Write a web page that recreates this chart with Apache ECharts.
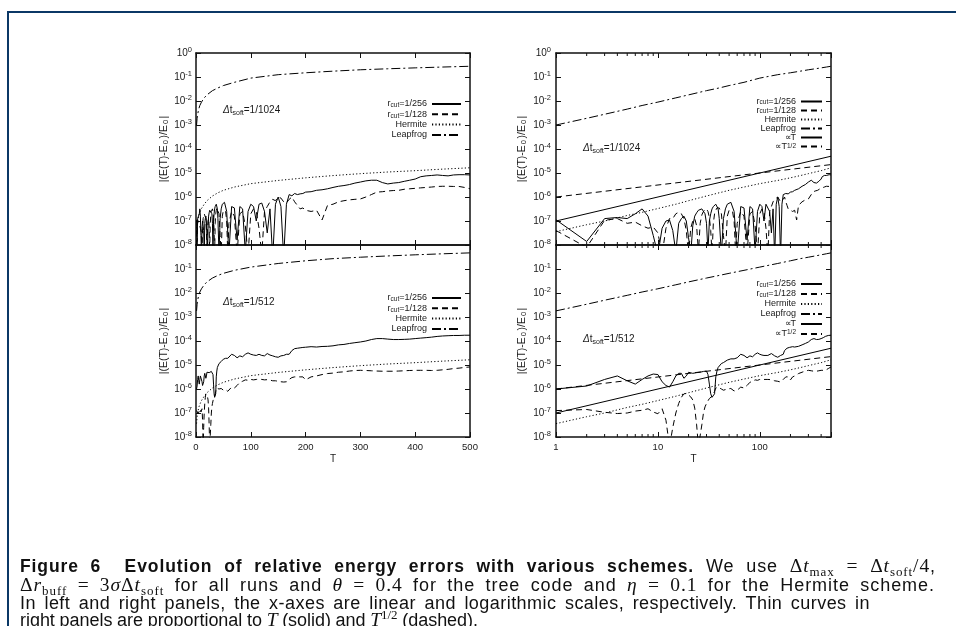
<!DOCTYPE html>
<html><head><meta charset="utf-8">
<script src="https://cdn.jsdelivr.net/npm/echarts@6/dist/echarts.min.js"></script>
<style>
html,body{margin:0;padding:0;background:#fff;}
#wrap{position:relative;width:956px;height:626px;overflow:hidden;}
#c{position:absolute;left:0;top:0;width:956px;height:626px;}
.cap{position:absolute;left:20px;white-space:nowrap;font-family:'Liberation Sans',Arial,sans-serif;font-size:18px;line-height:20px;color:#111;}
.cap b{font-weight:bold;font-size:17.5px;}
.cap i{font-family:'Liberation Serif','DejaVu Serif',serif;font-size:19.5px;font-style:italic;}
.cap .mr{font-family:'Liberation Serif','DejaVu Serif',serif;font-size:19.5px;}
.cap sub,.cap sup{font-family:'Liberation Serif','DejaVu Serif',serif;font-size:13px;line-height:0;position:relative;vertical-align:baseline;}
.cap sub{top:4px;}
.cap sup{top:-7px;}
</style>
</head><body><div id="wrap"><div id="c"></div>
<div class="cap" data-right="930" style="top:556px"><b>Figure 6&nbsp; Evolution of relative energy errors with various schemes.</b> We use <span class="mr">&Delta;</span><i>t</i><sub>max</sub> <span class="mr">= &Delta;</span><i>t</i><sub>soft</sub><span class="mr">/4</span>,</div>
<div class="cap" data-right="935" style="top:575px"><span class="mr">&Delta;</span><i>r</i><sub>buff</sub> <span class="mr">= 3</span><i>&sigma;</i><span class="mr">&Delta;</span><i>t</i><sub>soft</sub> for all runs and <i>&theta;</i> <span class="mr">= 0.4</span> for the tree code and <i>&eta;</i> <span class="mr">= 0.1</span> for the Hermite scheme.</div>
<div class="cap" data-right="870" style="top:593px">In left and right panels, the x-axes are linear and logarithmic scales, respectively. Thin curves in</div>
<div class="cap" data-right="478" style="top:610px">right panels are proportional to <i>T</i> (solid) and <i>T</i><sup>1/2</sup> (dashed).</div>
</div>
<script>
// ---------------- data ----------------
const tNoisy = [1,2,3,4,5,6,7,8,9,10,11,12,13,14,15,16,17,18,19,20,21,22,23,24,25,26,27,28,29,30,31,32,33,34,35,36,37,38,39,40,
  42,44,46,48,50,52,54,56,58,60,
  65,70,75,80,85,90,95,100,105,110,115,120,125,130,135,140,145,150,155,160,165,170,175,180,185,190,195,200,
  210,220,230,240,250,260,270,280,290,300,310,320,330,340,350,360,370,380,390,400,410,420,430,440,450,460,470,480,490,500];

// dt_soft = 1/1024, r_cut = 1/256 (solid)
const r256_1024 = [1.12e-7,1.4e-8,1.26e-7,1.4e-7,1.26e-7,2e-7,3.2e-7,1.6e-7,2.5e-8,4e-9,5e-8,1e-7,1.1e-7,4e-8,5e-9,8e-8,1.26e-7,1.6e-7,1e-7,2e-8,4e-9,6.3e-8,1.6e-7,2.2e-7,2.8e-7,3.2e-7,3.2e-7,2.8e-7,2e-7,8e-8,5e-9,1e-7,2e-7,3.2e-7,4e-7,4.5e-7,5e-7,4.5e-7,3.2e-7,1.26e-7,
  4e-9,1.26e-7,3.2e-7,5e-7,5.6e-7,6e-7,5e-7,2.5e-7,3.2e-8,4e-9,
  4e-7,3.5e-7,1.6e-8,4e-7,3.2e-7,5e-9,2.5e-7,5e-7,4e-7,1e-7,5e-7,5.6e-7,2.5e-7,3.2e-8,3.2e-7,3e-9,5e-7,1e-6,4e-7,3e-9,5e-7,1.26e-6,1.12e-6,1.4e-6,1.26e-6,1.35e-6,1.4e-6,1.6e-6,
  1.66e-6,1.9e-6,2e-6,2.2e-6,2.5e-6,2.8e-6,3e-6,3.3e-6,3.8e-6,4.2e-6,4.7e-6,5e-6,5e-6,4e-6,3.5e-6,3.8e-6,4e-6,4.5e-6,5e-6,5.6e-6,7e-6,7.6e-6,7.9e-6,8.3e-6,7.9e-6,7.6e-6,8.3e-6,8.5e-6,8.5e-6,8.3e-6];
// dt_soft = 1/1024, r_cut = 1/128 (dashed)
const r128_1024 = [4e-8,8e-9,1.07e-7,1.26e-7,8e-8,9e-8,6.3e-8,5e-8,5.6e-8,3.2e-8,4e-9,5e-8,1.26e-7,1.26e-7,2e-7,2.3e-7,2e-7,1.26e-7,4e-8,4e-9,5e-8,1e-7,1.26e-7,6.3e-8,5e-9,8e-8,1.8e-7,2.5e-7,2.8e-7,3.2e-7,2.5e-7,1.4e-7,4e-8,4e-9,8e-8,2e-7,2.8e-7,3.5e-7,3.8e-7,3.5e-7,
  2e-7,2.5e-8,4e-9,1.6e-7,2.8e-7,3.2e-7,2.5e-7,1e-7,4e-9,8e-8,
  2.5e-7,1.6e-7,4e-9,2e-7,2.5e-7,6.3e-8,4e-9,2e-7,3.2e-7,2.5e-7,5e-8,4e-9,2.5e-7,4e-7,6.3e-7,8e-7,7e-7,1e-6,9e-7,6.3e-7,5.6e-7,8e-7,1e-6,6.3e-7,4.5e-7,3.2e-7,3.5e-7,2.8e-7,
  2.5e-7,2.8e-7,1.1e-7,4.5e-7,5e-7,6.3e-7,7e-7,7.6e-7,8e-7,8.3e-7,1e-6,1.26e-6,1.6e-6,1.66e-6,1.78e-6,1.86e-6,1.9e-6,2.1e-6,2.2e-6,2.3e-6,2.4e-6,2.5e-6,2.6e-6,2.75e-6,2.8e-6,2.8e-6,2.75e-6,2.75e-6,2.5e-6,2.2e-6];
// dt_soft = 1/512, r_cut = 1/256 (solid)
const r256_512 = [1e-6,1.33e-6,2.5e-6,3.5e-6,2.2e-6,1.6e-6,2.5e-6,3.5e-6,4.2e-6,4e-6,2e-6,1.4e-6,1.2e-6,2e-6,3.5e-6,4.5e-6,4.5e-6,2.8e-6,3.5e-6,5e-6,4.7e-6,4.5e-6,4.4e-6,4.8e-6,5e-6,5e-6,5.2e-6,5.4e-6,5.5e-6,5.6e-6,4e-6,1.6e-6,6.3e-7,4.5e-7,4e-7,6.3e-7,3.2e-6,5.6e-6,7.9e-6,8.9e-6,
  1.15e-5,1.26e-5,1.4e-5,1.6e-5,1.75e-5,1.8e-5,1.9e-5,1.8e-5,1.9e-5,2e-5,
  2.8e-5,2.5e-5,2e-5,2.4e-5,2.2e-5,2.8e-5,3.2e-5,2.8e-5,2.6e-5,2.5e-5,2.8e-5,2.5e-5,2.4e-5,3e-5,2.6e-5,2.4e-5,2.2e-5,2.1e-5,2.4e-5,2.5e-5,2.8e-5,2.8e-5,4e-5,4.8e-5,5e-5,5.2e-5,5.4e-5,5.5e-5,
  5.8e-5,5.6e-5,5.9e-5,6e-5,6.3e-5,6.9e-5,7.2e-5,7.9e-5,8.5e-5,9.1e-5,1e-4,1.15e-4,1.26e-4,1.26e-4,1.2e-4,1.15e-4,1.15e-4,1.17e-4,1.2e-4,1.26e-4,1.32e-4,1.38e-4,1.45e-4,1.55e-4,1.62e-4,1.66e-4,1.7e-4,1.7e-4,1.74e-4,1.74e-4];
// dt_soft = 1/512, r_cut = 1/128 (dashed)
const r128_512 = [1.26e-7,1.4e-7,1.07e-7,9.5e-8,1e-7,1.2e-7,1.3e-7,1.5e-7,1.1e-7,9.3e-8,1.5e-7,5e-8,4e-9,2.5e-8,1e-7,2.5e-7,4.5e-7,6.3e-7,6.5e-7,5.6e-7,4.7e-7,3.5e-7,1.6e-7,3.2e-8,4e-9,4e-9,3.2e-8,1e-7,1.8e-7,2.5e-7,3.2e-7,4e-7,4.7e-7,5e-7,5e-7,8e-7,1.1e-6,1.2e-6,1.2e-6,1.1e-6,
  1e-6,8.9e-7,1.05e-6,1e-6,8.9e-7,1.05e-6,9.5e-7,8.3e-7,8e-7,8.9e-7,
  1.2e-6,1.1e-6,1.4e-6,1.9e-6,2.1e-6,2.4e-6,2.3e-6,2.5e-6,2.4e-6,2.5e-6,2.6e-6,2.5e-6,2.4e-6,2.45e-6,2.35e-6,2.2e-6,2.2e-6,2.1e-6,2e-6,1.95e-6,2e-6,2.5e-6,3e-6,3.2e-6,3.2e-6,3.2e-6,3.2e-6,2.4e-6,
  3.2e-6,3.5e-6,4e-6,4.4e-6,4.6e-6,5e-6,5.2e-6,5.6e-6,5.9e-6,6e-6,5.9e-6,5.75e-6,5.6e-6,5.5e-6,5.5e-6,5.5e-6,5.6e-6,5.75e-6,5.9e-6,6e-6,6e-6,6e-6,5.9e-6,6e-6,6.3e-6,6.6e-6,7.1e-6,7.4e-6,7.9e-6,8.3e-6];

const tSmooth = [1,2,3,5,7,10,15,20,30,40,50,70,100,150,200,250,300,350,400,450,500];
const hermite = [3.6e-8,7e-8,1e-7,1.7e-7,2.3e-7,3.3e-7,5e-7,7e-7,1.1e-6,1.5e-6,1.9e-6,2.6e-6,3.6e-6,4.9e-6,6.3e-6,7.8e-6,9.4e-6,1.1e-5,1.25e-5,1.45e-5,1.65e-5];
const leap_1024 = [1e-3,1.9e-3,2.8e-3,4.6e-3,6.5e-3,9e-3,1.35e-2,1.8e-2,2.7e-2,3.5e-2,4.4e-2,6e-2,9e-2,0.125,0.15,0.175,0.2,0.22,0.24,0.26,0.28];
const leap_512 = [1.8e-3,3.4e-3,5e-3,8e-3,1.1e-2,1.5e-2,2.2e-2,2.9e-2,4.2e-2,5.4e-2,6.6e-2,8.8e-2,0.12,0.17,0.22,0.27,0.31,0.35,0.39,0.43,0.47];

const tRef = [1, 500];
const propT = [1e-7, 5e-5];
const propSqrtT = [1e-6, 2.24e-5];

const xLinTicks = [0,100,200,300,400,500];
const xLogTicks = [1,10,100];
const xLogMinor = [2,3,4,5,6,7,8,9,20,30,40,50,60,70,80,90,200,300,400];
const panelLabels = ['1/1024','1/512','1/1024','1/512'];

// ---------------- styling ----------------
const FONT = "'Liberation Sans', Arial, Helvetica, sans-serif";
const INK = '#1a1a1a';
const dash = {r256:'solid', r128:[6,4], herm:[1.2,2.2], leap:[9,3,2,3], propT:'solid', propS:[6,4]};
const legendText = {
  r256:'{a|r}{s|cut}{a|=1/256}', r128:'{a|r}{s|cut}{a|=1/128}', herm:'{a|Hermite}', leap:'{a|Leapfrog}',
  propT:'{a|\u221DT}', propS:'{a|\u221DT}{p|1/2}'
};
function smallRich(lh) {
  return {
    a:{fontFamily:FONT,fontSize:9,lineHeight:lh,color:INK},
    s:{fontFamily:FONT,fontSize:6.5,lineHeight:6,color:INK,verticalAlign:'bottom'},
    p:{fontFamily:FONT,fontSize:6.5,lineHeight:6,color:INK,verticalAlign:'top'}
  };
}
const grids = [
  {left:196, top:53, width:274, height:192},
  {left:196, top:245, width:274, height:192},
  {left:556, top:53, width:275, height:192},
  {left:556, top:245, width:275, height:192}
];
const axisLine = {show:true, onZero:false, lineStyle:{color:'#111', width:1.5}};
const axisTick = {show:true, inside:true, length:5, lineStyle:{color:'#111', width:1}};
const tickRich = {
  b:{fontFamily:FONT,fontSize:10,lineHeight:15,color:INK},
  e:{fontFamily:FONT,fontSize:7.5,lineHeight:7,color:INK,verticalAlign:'top'}
};

const xAxis = [], yAxis = [];
grids.forEach((g, gi) => {
  const isLog = gi >= 2, bottomRow = gi % 2 === 1;
  const base = {gridIndex:gi, type:isLog?'log':'value', min:isLog?1:0, max:500, splitLine:{show:false},
    axisLine, axisTick};
  if (isLog) { base.logBase = 10; base.splitNumber = 3; } else { base.interval = 100; }
  xAxis.push(Object.assign({}, base, {position:'bottom',
    axisLabel:{show:bottomRow, margin:5, fontFamily:FONT, fontSize:9.5, color:INK,
      formatter: v => { if (isLog) { return xLogTicks.indexOf(Math.round(v)) >= 0 ? String(Math.round(v)) : ''; } return xLinTicks.indexOf(v) >= 0 ? String(v) : ''; }},
    name: bottomRow ? 'T' : '', nameLocation:'middle', nameGap:17,
    nameTextStyle:{fontFamily:FONT, fontSize:10, color:INK}}));
  xAxis.push(Object.assign({}, base, {position:'top', axisLabel:{show:false}}));
  const ybase = {gridIndex:gi, type:'log', logBase:10, min:1e-8, max:1, splitNumber:8, splitLine:{show:false}, axisLine, axisTick};
  yAxis.push(Object.assign({}, ybase, {position:'left',
    axisLabel:{margin:isLog?5:4, rich:tickRich,
      formatter: v => { const n = Math.round(Math.log10(v)); if (bottomRow && n === 0) return ''; return '{b|10}{e|' + n + '}'; }},
    name:'|(E(T)-E{s|0})/E{s|0}|', nameLocation:'middle', nameRotate:90, nameGap:isLog?28:25,
    nameTextStyle:{fontFamily:FONT, fontSize:10.5, lineHeight:12, color:INK,
      rich:{s:{fontFamily:FONT,fontSize:7.5,lineHeight:7,color:INK,verticalAlign:'bottom',padding:[0,1.5,0,1]}}}}));
  yAxis.push(Object.assign({}, ybase, {position:'right', axisLabel:{show:false}}));
});

function line(name, gi, xs, ys) {
  return {type:'line', name, xAxisIndex:2*gi, yAxisIndex:2*gi,
    data: xs.map((t,i)=>[t, ys[i]]), showSymbol:false, symbol:'none', clip:true, silent:true,
    animation:false, itemStyle:{color:'#000'},
    lineStyle:{color:'#000', width:1, type:dash[name]}, emphasis:{disabled:true}};
}
const series = [];
const runs = [
  [r256_1024, r128_1024, leap_1024],
  [r256_512, r128_512, leap_512]
];
[0,1,2,3].forEach(gi => {
  const run = runs[gi % 2];
  series.push(line('r256', gi, tNoisy, run[0]));
  series.push(line('r128', gi, tNoisy, run[1]));
  series.push(line('herm', gi, tSmooth, hermite));
  series.push(line('leap', gi, tSmooth, run[2]));
  if (gi >= 2) {
    series.push(line('propT', gi, tRef, propT));
    series.push(line('propS', gi, tRef, propSqrtT));
    series.push({type:'custom', xAxisIndex:2*gi, yAxisIndex:2*gi, silent:true, animation:false, clip:false,
      data: xLogMinor.map(v => [v, 1e-8]), encode:{x:0, y:1},
      renderItem(params, api) {
        const v = api.value(0);
        const b = api.coord([v, 1e-8]), t = api.coord([v, 1]);
        return {type:'group', children:[
          {type:'line', shape:{x1:b[0], y1:b[1], x2:b[0], y2:b[1]-3}, style:{stroke:'#111', lineWidth:1}},
          {type:'line', shape:{x1:t[0], y1:t[1], x2:t[0], y2:t[1]+3}, style:{stroke:'#111', lineWidth:1}}
        ]};
      }});
  }
});

function legend(names, right, top, w, lh, gap) {
  return {show:true, data:names, orient:'vertical', align:'right', right, top, itemWidth:w, itemHeight:8,
    itemGap:gap, padding:0, selectedMode:false,
    itemStyle:{color:'rgba(0,0,0,0)', borderColor:'rgba(0,0,0,0)', borderWidth:0},
    textStyle:{fontFamily:FONT, fontSize:9, lineHeight:lh, color:INK, rich:smallRich(lh)},
    formatter: n => legendText[n]};
}
const four = ['r256','r128','herm','leap'];
const six = ['r256','r128','herm','leap','propT','propS'];

const annRich = {
  d:{fontFamily:FONT,fontSize:10,fontStyle:'italic',fill:INK,lineHeight:13},
  a:{fontFamily:FONT,fontSize:10,fill:INK,lineHeight:13},
  s:{fontFamily:FONT,fontSize:7,fill:INK,lineHeight:7,verticalAlign:'bottom'}
};
const annPos = [[223,110],[223,302],[583,148],[583,339]];

const graphic = [
  {type:'line', shape:{x1:8, y1:12, x2:8, y2:626}, style:{stroke:'#0b3866', lineWidth:2}},
  {type:'line', shape:{x1:7, y1:12, x2:956, y2:12}, style:{stroke:'#0b3866', lineWidth:2}}
];
annPos.forEach((p, i) => graphic.push({type:'text', x:p[0], y:p[1], silent:true,
  style:{text:'{d|\u0394}{a|t}{s|soft}{a|=' + panelLabels[i] + '}', rich:annRich, verticalAlign:'middle'}}));

const chart = echarts.init(document.getElementById('c'), null, {renderer:'canvas'});
chart.setOption({
  animation:false,
  textStyle:{fontFamily:FONT},
  grid: grids,
  xAxis, yAxis, series,
  legend:[
    legend(four, 494, 99, 29, 10, 0.3),
    legend(four, 494, 293, 29, 10, 0.3),
    legend(six, 133, 97, 21, 8, 0),
    legend(six, 133, 279, 21, 10, 0)
  ],
  graphic
});

// fit caption lines to the widths seen in the figure: share the slack between letters and spaces
document.querySelectorAll('.cap[data-right]').forEach(el => {
  const target = parseFloat(el.getAttribute('data-right')) - 20;
  const w = el.getBoundingClientRect().width;
  const txt = el.textContent;
  const spaces = txt.split(' ').length - 1;
  const chars = txt.length;
  const extra = target - w;
  el.style.letterSpacing = (extra * 0.5 / chars) + 'px';
  if (spaces > 0) el.style.wordSpacing = (extra * 0.5 / spaces) + 'px';
});
</script></body></html>
